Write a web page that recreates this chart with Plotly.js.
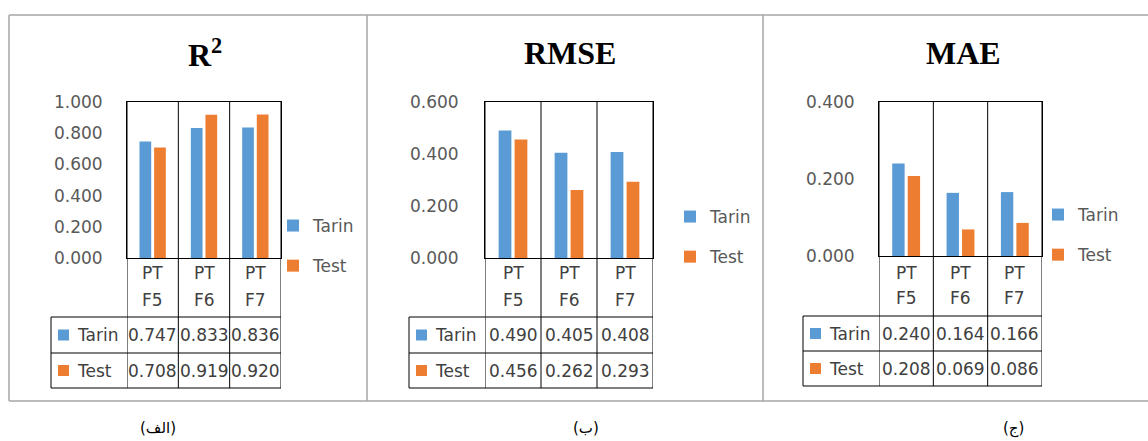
<!DOCTYPE html>
<html>
<head>
<meta charset="utf-8">
<script src="https://cdn.plot.ly/plotly-3.0.1.min.js"></script>
<style>
  html, body { margin: 0; padding: 0; background: #ffffff; }
  #chart { width: 1148px; height: 441px; }
</style>
</head>
<body>
<div id="chart"></div>
<script>
// ---- data ----
const categories = ["PT F5", "PT F6", "PT F7"];
const seriesNames = ["Tarin", "Test"];

const r2Tarin = [0.747, 0.833, 0.836];
const r2Test = [0.708, 0.919, 0.920];

const rmseTarin = [0.490, 0.405, 0.408];
const rmseTest = [0.456, 0.262, 0.293];

const maeTarin = [0.240, 0.164, 0.166];
const maeTest = [0.208, 0.069, 0.086];

const panelTitles = ["R<sup>2</sup>", "RMSE", "MAE"];
const panelCaptions = ["(الف)", "(ب)", "(ج)"];
const axisMax = [1.0, 0.6, 0.4];

// ---- styling / geometry (pixels) ----
const W = 1148, H = 441;
const px = x => x / W;
const py = y => 1 - y / H;

const colors = ["#5B9BD5", "#ED7D31"];
const textGray = "#595959";
const cellText = "#404040";
const baseFont = "DejaVu Sans";

const panels = [
  { plotL: 127, plotR: 281, top: 102, base: 258, tableL: 51, rows: [317, 353, 388],
    catY: [273, 300], legendX: 273, legendY: 246, titleX: 205, captionX: 158, standoff: 20 },
  { plotL: 485, plotR: 653, top: 102, base: 258, tableL: 409, rows: [317, 353, 388],
    catY: [273, 300], legendX: 670, legendY: 237, titleX: 570, captionX: 586, standoff: 22 },
  { plotL: 879, plotR: 1042, top: 102, base: 256, tableL: 803, rows: [316, 351, 386],
    catY: [273, 298], legendX: 1038, legendY: 235, titleX: 963, captionX: 1013, standoff: 20 }
];

const panelSeries = [
  [r2Tarin, r2Test],
  [rmseTarin, rmseTest],
  [maeTarin, maeTest]
];

const traces = [];
const shapes = [];
const annotations = [];
const layout = {
  width: W, height: H,
  margin: { l: 0, r: 0, t: 0, b: 0 },
  paper_bgcolor: "#ffffff",
  plot_bgcolor: "rgba(0,0,0,0)",
  barmode: "group",
  bargap: 0.43,
  bargroupgap: 0.2,
  font: { family: baseFont, size: 17, color: textGray },
  showlegend: true
};

panels.forEach((p, i) => {
  const n = i === 0 ? "" : String(i + 1);
  const xa = "x" + n, ya = "y" + n;
  const legendName = "legend" + n;

  // bars
  seriesNames.forEach((name, s) => {
    traces.push({
      type: "bar",
      name: name,
      x: categories,
      y: panelSeries[i][s],
      xaxis: xa, yaxis: ya,
      marker: { color: colors[s] },
      legend: legendName,
      legendgroup: "g" + i + "_" + s,
      hoverinfo: "skip"
    });
  });

  // axes
  layout["xaxis" + n] = {
    domain: [px(p.plotL), px(p.plotR)],
    anchor: ya,
    type: "category",
    range: [-0.5, categories.length - 0.5],
    showticklabels: false,
    ticks: "",
    showgrid: false,
    zeroline: false,
    showline: true, mirror: true, linecolor: "#000000", linewidth: 1,
    fixedrange: true
  };
  layout["yaxis" + n] = {
    domain: [py(p.base), py(p.top)],
    anchor: xa,
    range: [0, axisMax[i]],
    dtick: 0.2, tick0: 0,
    tickformat: ".3f",
    ticks: "",
    ticklabelstandoff: p.standoff,
    tickfont: { family: baseFont, size: 17, color: textGray },
    showgrid: false,
    zeroline: false,
    showline: true, mirror: true, linecolor: "#000000", linewidth: 1,
    fixedrange: true
  };

  // legend on the right of each panel
  layout[legendName] = {
    x: px(p.legendX), xanchor: "left",
    y: py(p.legendY), yanchor: "middle",
    bgcolor: "rgba(0,0,0,0)",
    borderwidth: 0,
    traceorder: "grouped",
    tracegroupgap: 15,
    font: { family: baseFont, size: 17, color: textGray }
  };

  // category column dividers running through label row and data table
  for (let k = 0; k <= categories.length; k++) {
    shapes.push({
      type: "line", xref: xa, yref: "paper",
      x0: k - 0.5, x1: k - 0.5,
      y0: py(p.top), y1: py(p.rows[2]),
      line: { color: "#000000", width: 1 }
    });
  }
  // table horizontal rules
  p.rows.forEach(ry => {
    shapes.push({
      type: "line", xref: "paper", yref: "paper",
      x0: px(p.tableL), x1: px(p.plotR),
      y0: py(ry), y1: py(ry),
      line: { color: "#000000", width: 1 }
    });
  });
  // table left edge
  shapes.push({
    type: "line", xref: "paper", yref: "paper",
    x0: px(p.tableL), x1: px(p.tableL),
    y0: py(p.rows[0]), y1: py(p.rows[2]),
    line: { color: "#000000", width: 1 }
  });

  // category labels (two lines)
  categories.forEach(c => {
    c.split(" ").forEach((part, li) => {
      annotations.push({
        xref: xa, yref: "paper", x: c, y: py(p.catY[li]),
        text: part, showarrow: false, xanchor: "center", yanchor: "middle",
        font: { family: baseFont, size: 17, color: cellText }
      });
    });
  });

  // data table rows
  seriesNames.forEach((name, s) => {
    const rowTop = p.rows[s], rowBot = p.rows[s + 1];
    const rowMid = (rowTop + rowBot) / 2;
    // key swatch
    shapes.push({
      type: "rect", xref: "paper", yref: "paper",
      x0: px(p.tableL + 7), x1: px(p.tableL + 18),
      y0: py(rowMid - 5.5), y1: py(rowMid + 5.5),
      fillcolor: colors[s], line: { width: 0 }
    });
    annotations.push({
      xref: "paper", yref: "paper", x: px(p.tableL + 24), y: py(rowMid),
      text: name, showarrow: false, xanchor: "left", yanchor: "middle",
      font: { family: baseFont, size: 17, color: cellText }
    });
    panelSeries[i][s].forEach((v, k) => {
      annotations.push({
        xref: xa, yref: "paper", x: categories[k], y: py(rowMid),
        text: v.toFixed(3), showarrow: false, xanchor: "center", yanchor: "middle",
        font: { family: baseFont, size: 17, color: cellText }
      });
    });
  });

  // panel title
  annotations.push({
    xref: "paper", yref: "paper", x: px(p.titleX), y: py(53),
    text: "<b>" + panelTitles[i] + "</b>", showarrow: false,
    xanchor: "center", yanchor: "middle",
    font: { family: "Liberation Serif", size: 32, color: "#000000" }
  });

  // caption under the frame
  annotations.push({
    xref: "paper", yref: "paper", x: px(p.captionX), y: py(428),
    text: panelCaptions[i], showarrow: false,
    xanchor: "center", yanchor: "middle",
    font: { family: baseFont, size: 15, color: "#000000" }
  });
});

// outer gray frame and panel separators
const frameColor = "#a6a6a6";
[[9, 15, W, 15], [9, 401, W, 401], [9, 15, 9, 401], [367, 15, 367, 401], [763, 15, 763, 401]]
  .forEach(([x0, y0, x1, y1]) => {
    shapes.push({
      type: "line", xref: "paper", yref: "paper",
      x0: px(x0), x1: px(x1), y0: py(y0), y1: py(y1),
      line: { color: frameColor, width: 1.5 }
    });
  });

layout.shapes = shapes;
layout.annotations = annotations;

Plotly.newPlot("chart", traces, layout, { displayModeBar: false, staticPlot: true });
</script>
</body>
</html>
